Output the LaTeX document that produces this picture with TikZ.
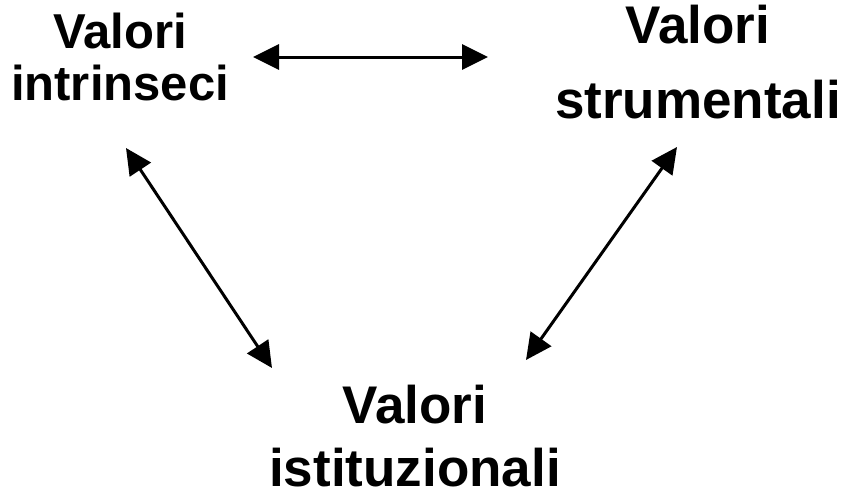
\documentclass[tikz,border=0pt]{standalone}
\usepackage{fontspec}
\setmainfont{Liberation Sans}
\usetikzlibrary{arrows.meta}
\begin{document}
\begin{tikzpicture}[x=1pt, y=-1pt]
    \tikzstyle{valori}=[anchor=north, inner sep=0pt, align=center]
    \tikzstyle{link}=[{Triangle[length=26pt,width=25pt]}-{Triangle[length=26pt,width=25pt]}, line width=3pt]
    \useasboundingbox (0,0) rectangle (848,493);
    \node (intr) [valori, font=\bfseries\fontsize{49}{52}\selectfont] at (120,13) {Valori\\ intrinseci};
    \node (strum) [valori, font=\bfseries\fontsize{53}{75}\selectfont] at (698,5) {Valori\\ strumentali};
    \node (istit) [valori, font=\bfseries\fontsize{53}{63}\selectfont] at (415,385) {Valori\\ istituzionali};
    \coordinate (intr-e) at (253,57);
    \coordinate (strum-w) at (488,57);
    \coordinate (intr-s) at (126,148);
    \coordinate (istit-nw) at (272,368);
    \coordinate (strum-s) at (677,147);
    \coordinate (istit-ne) at (526,360);
    \draw [link] (intr-e) -- (strum-w);
    \draw [link] (intr-s) -- (istit-nw);
    \draw [link] (strum-s) -- (istit-ne);
\end{tikzpicture}
\end{document}
